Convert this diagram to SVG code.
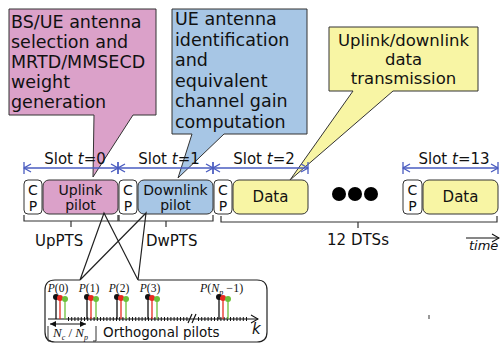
<svg xmlns="http://www.w3.org/2000/svg" width="501" height="345" viewBox="0 0 501 345">
  <style>
    text { font-family: "DejaVu Sans", Verdana, sans-serif; fill: #111; }
    .call { font-size: 17.5px; }
    .lbl { font-size: 15px; }
    .cpt { font-size: 14px; }
    .box { stroke: #333; stroke-width: 1; }
    .cp { fill: #fff; }
    .pink { fill: #dba1c9; }
    .blue { fill: #a7c6e5; }
    .yel { fill: #f8f5a4; }
    .slot { stroke: #4a5cc0; stroke-width: 1.3; fill: none; }
    .brk { stroke: #333; stroke-width: 1.2; fill: none; }
    .serif { font-family: "Liberation Serif", "Times New Roman", serif; }
  </style>
  <defs>
    <marker id="slotEnd" viewBox="-9 -7 10 14" refX="0" refY="0" markerWidth="10" markerHeight="14" markerUnits="userSpaceOnUse" orient="auto-start-reverse">
      <path d="M-7,-4 L0,0 L-7,4 M0,-6 V6" fill="none" stroke="#4a5cc0" stroke-width="1.3"/>
    </marker>
    <marker id="openHead" viewBox="-8 -5 9 10" refX="0" refY="0" markerWidth="9" markerHeight="10" markerUnits="userSpaceOnUse" orient="auto">
      <path d="M-7,-4 L0,0 L-7,4" fill="none" stroke="#111" stroke-width="1.1"/>
    </marker>
    <marker id="solidHead" viewBox="-6 -3 7 6" refX="0" refY="0" markerWidth="7" markerHeight="6" markerUnits="userSpaceOnUse" orient="auto-start-reverse">
      <path d="M-6,-3 L0,0 L-6,3 Z" fill="#111"/>
    </marker>
  </defs>

  <!-- callouts -->
  <g id="callout-pink">
    <path class="box pink" d="M9,9 H156 V115 H133 L93,177 L94,115 H9 Z"/>
    <text class="call" x="11" y="28" font-size="18">BS/UE antenna</text>
    <text class="call" x="11" y="48" font-size="18">selection and</text>
    <text class="call" x="11" y="68" font-size="18">MRTD/MMSECD</text>
    <text class="call" x="11" y="88" font-size="18">weight</text>
    <text class="call" x="11" y="108" font-size="18">generation</text>
  </g>
  <g id="callout-blue">
    <path class="box blue" d="M172,9 H307 V134 H224 L178,178 L192,134 H172 Z"/>
    <text class="call" x="175" y="25">UE antenna</text>
    <text class="call" x="175" y="45.5">identification</text>
    <text class="call" x="175" y="66">and</text>
    <text class="call" x="175" y="86.5">equivalent</text>
    <text class="call" x="175" y="107">channel gain</text>
    <text class="call" x="175" y="127.5">computation</text>
  </g>
  <g id="callout-yellow">
    <path class="box yel" d="M329,27 H478 V91 H393 L290,180 L353,91 H329 Z"/>
    <text x="403.5" y="46" font-size="16.5" text-anchor="middle">Uplink/downlink</text>
    <text x="403.5" y="65" font-size="16.5" text-anchor="middle">data</text>
    <text x="403.5" y="84" font-size="16.5" text-anchor="middle">transmission</text>
  </g>

  <!-- slot spans -->
  <g id="slots">
    <line class="slot" x1="24" y1="168" x2="118" y2="168" marker-start="url(#slotEnd)" marker-end="url(#slotEnd)"/>
    <line class="slot" x1="118" y1="168" x2="213" y2="168" marker-start="url(#slotEnd)" marker-end="url(#slotEnd)"/>
    <line class="slot" x1="213" y1="168" x2="308" y2="168" marker-start="url(#slotEnd)" marker-end="url(#slotEnd)"/>
    <line class="slot" x1="403" y1="168" x2="498" y2="168" marker-start="url(#slotEnd)" marker-end="url(#slotEnd)"/>
    <text class="lbl" x="75" y="164" text-anchor="middle">Slot <tspan font-style="italic">t</tspan>=0</text>
    <text class="lbl" x="169" y="164" text-anchor="middle">Slot <tspan font-style="italic">t</tspan>=1</text>
    <text class="lbl" x="264" y="164" text-anchor="middle">Slot <tspan font-style="italic">t</tspan>=2</text>
    <text class="lbl" x="454" y="164" text-anchor="middle">Slot <tspan font-style="italic">t</tspan>=13</text>
  </g>

  <!-- frame blocks -->
  <g id="cp0"><rect class="box cp" x="24" y="180" width="18" height="34" rx="4"/><text class="cpt" x="33" y="195" text-anchor="middle">C</text><text class="cpt" x="33" y="211" text-anchor="middle">P</text></g>
  <g id="uplink-pilot"><rect class="box pink" x="43" y="180" width="75" height="34" rx="6"/><text font-size="14" x="80.5" y="195" text-anchor="middle">Uplink</text><text font-size="14" x="80.5" y="210" text-anchor="middle">pilot</text></g>
  <g id="cp1"><rect class="box cp" x="119" y="180" width="18" height="34" rx="4"/><text class="cpt" x="128" y="195" text-anchor="middle">C</text><text class="cpt" x="128" y="211" text-anchor="middle">P</text></g>
  <g id="downlink-pilot"><rect class="box blue" x="138" y="180" width="75" height="34" rx="6"/><text font-size="14" x="175.5" y="195" text-anchor="middle">Downlink</text><text font-size="14" x="175.5" y="210" text-anchor="middle">pilot</text></g>
  <g id="cp2"><rect class="box cp" x="214" y="180" width="18" height="34" rx="4"/><text class="cpt" x="223" y="195" text-anchor="middle">C</text><text class="cpt" x="223" y="211" text-anchor="middle">P</text></g>
  <g id="data2"><rect class="box yel" x="233" y="180" width="75" height="34" rx="6"/><text class="lbl" x="270.5" y="202" text-anchor="middle">Data</text></g>
  <g id="ellipsis"><circle cx="339" cy="194" r="7" fill="#000"/><circle cx="355" cy="194" r="7" fill="#000"/><circle cx="371" cy="194" r="7" fill="#000"/></g>
  <g id="cp13"><rect class="box cp" x="403" y="180" width="19" height="34" rx="4"/><text class="cpt" x="412.5" y="195" text-anchor="middle">C</text><text class="cpt" x="412.5" y="211" text-anchor="middle">P</text></g>
  <g id="data13"><rect class="box yel" x="423" y="180" width="75" height="34" rx="6"/><text class="lbl" x="460.5" y="202" text-anchor="middle">Data</text></g>

  <!-- field braces -->
  <g id="braces">
    <path class="brk" d="M24,215 V221 H118 V215 M71,221 V227"/>
    <path class="brk" d="M119,215 V221 H213 V215 M166,221 V227"/>
    <path class="brk" d="M221,216 V222 H497 V216 M358,222 V228"/>
    <text class="lbl" x="35" y="246">UpPTS</text>
    <text class="lbl" x="146" y="246">DwPTS</text>
    <text class="lbl" x="358" y="245" text-anchor="middle">12 DTSs</text>
  </g>

  <!-- time axis -->
  <g id="time-axis">
    <line x1="466" y1="238" x2="499" y2="238" stroke="#111" stroke-width="1.1" marker-end="url(#openHead)"/>
    <text x="469" y="250" font-size="13" font-style="italic">time</text>
  </g>

  <!-- pilot comb callout -->
  <g id="pilot-box">
    <path d="M80,280 H55 Q45,280 45,290 V332 Q45,342 55,342 H257 Q267,342 267,332 V290 Q267,280 257,280 H138" fill="#fff" stroke="#222" stroke-width="1.2"/>
    <path d="M80,280 L104,213 L138,280 M80,280 L146,213 L138,280" fill="none" stroke="#222" stroke-width="1.2"/>

    <!-- subcarrier axis -->
    <line x1="48" y1="319" x2="258" y2="319" stroke="#111" stroke-width="1.2" marker-end="url(#openHead)"/>
    <line x1="68" y1="319" x2="189" y2="319" stroke="#111" stroke-width="4" stroke-dasharray="1 2.2"/>
    <line x1="198" y1="319" x2="248" y2="319" stroke="#111" stroke-width="4" stroke-dasharray="1 2.2"/>
    <path d="M188,323 L192,314 M192,323 L196,314" stroke="#111" stroke-width="1.2" fill="none"/>
    <text x="252" y="334" font-size="15" font-style="italic">k</text>

    <!-- pilot groups -->
    <g id="p0">
      <line x1="56" y1="297" x2="56" y2="319" stroke="#111" stroke-width="1.3"/><circle cx="56" cy="297" r="3" fill="#111"/>
      <line x1="60" y1="298" x2="60" y2="319" stroke="#e82a20" stroke-width="1.3"/><circle cx="60" cy="298" r="3" fill="#e82a20"/>
      <line x1="65" y1="299" x2="65" y2="319" stroke="#6cc03a" stroke-width="1.3"/><circle cx="65" cy="299" r="3" fill="#6cc03a"/>
      <text class="serif" x="58" y="292" font-size="11.5" text-anchor="middle"><tspan font-style="italic">P</tspan>(0)</text>
    </g>
    <g id="p1">
      <line x1="87" y1="297" x2="87" y2="319" stroke="#111" stroke-width="1.3"/><circle cx="87" cy="297" r="3" fill="#111"/>
      <line x1="91" y1="298" x2="91" y2="319" stroke="#e82a20" stroke-width="1.3"/><circle cx="91" cy="298" r="3" fill="#e82a20"/>
      <line x1="96" y1="299" x2="96" y2="319" stroke="#6cc03a" stroke-width="1.3"/><circle cx="96" cy="299" r="3" fill="#6cc03a"/>
      <text class="serif" x="89" y="292" font-size="11.5" text-anchor="middle"><tspan font-style="italic">P</tspan>(1)</text>
    </g>
    <g id="p2">
      <line x1="117" y1="297" x2="117" y2="319" stroke="#111" stroke-width="1.3"/><circle cx="117" cy="297" r="3" fill="#111"/>
      <line x1="121" y1="298" x2="121" y2="319" stroke="#e82a20" stroke-width="1.3"/><circle cx="121" cy="298" r="3" fill="#e82a20"/>
      <line x1="126" y1="299" x2="126" y2="319" stroke="#6cc03a" stroke-width="1.3"/><circle cx="126" cy="299" r="3" fill="#6cc03a"/>
      <text class="serif" x="119" y="292" font-size="11.5" text-anchor="middle"><tspan font-style="italic">P</tspan>(2)</text>
    </g>
    <g id="p3">
      <line x1="148" y1="297" x2="148" y2="319" stroke="#111" stroke-width="1.3"/><circle cx="148" cy="297" r="3" fill="#111"/>
      <line x1="152" y1="298" x2="152" y2="319" stroke="#e82a20" stroke-width="1.3"/><circle cx="152" cy="298" r="3" fill="#e82a20"/>
      <line x1="157" y1="299" x2="157" y2="319" stroke="#6cc03a" stroke-width="1.3"/><circle cx="157" cy="299" r="3" fill="#6cc03a"/>
      <text class="serif" x="150" y="292" font-size="11.5" text-anchor="middle"><tspan font-style="italic">P</tspan>(3)</text>
    </g>
    <g id="pN">
      <line x1="219" y1="297" x2="219" y2="319" stroke="#111" stroke-width="1.3"/><circle cx="219" cy="297" r="3" fill="#111"/>
      <line x1="223" y1="298" x2="223" y2="319" stroke="#e82a20" stroke-width="1.3"/><circle cx="223" cy="298" r="3" fill="#e82a20"/>
      <line x1="228" y1="299" x2="228" y2="319" stroke="#6cc03a" stroke-width="1.3"/><circle cx="228" cy="299" r="3" fill="#6cc03a"/>
      <text class="serif" x="200" y="292" font-size="12"><tspan font-style="italic">P</tspan>(<tspan font-style="italic">N</tspan><tspan font-size="8" dy="3" font-style="italic">p</tspan><tspan dy="-3"> −1)</tspan></text>
    </g>

    <!-- pilot spacing -->
    <line x1="50" y1="324" x2="86" y2="324" stroke="#111" stroke-width="1.2" marker-start="url(#solidHead)" marker-end="url(#solidHead)"/>
    <path d="M48,326 V341 H51 M96,326 V341 H93" stroke="#333" stroke-width="1" fill="none"/>
    <text class="serif" x="53" y="337" font-size="13"><tspan font-style="italic">N</tspan><tspan font-size="8" dy="3" font-style="italic">c</tspan><tspan dy="-3"> / </tspan><tspan font-style="italic">N</tspan><tspan font-size="8" dy="3" font-style="italic">p</tspan></text>
    <text x="103" y="337" font-size="13.5">Orthogonal pilots</text>
  </g>

  <line x1="429" y1="315" x2="429" y2="319" stroke="#777" stroke-width="1.5"/>
</svg>
